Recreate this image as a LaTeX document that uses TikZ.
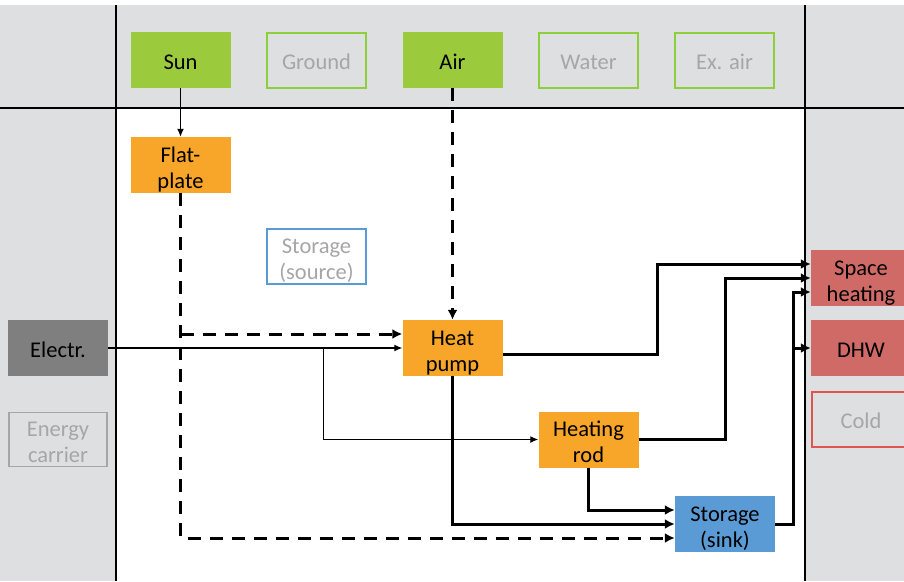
\documentclass[tikz,border=0pt]{standalone}
\usepackage{fontspec}
\setmainfont{Carlito}
\usetikzlibrary{arrows.meta}

\definecolor{panelgrey}{HTML}{DDDFE1}
\definecolor{srcgreen}{HTML}{9BCB3C}
\definecolor{linegreen}{HTML}{8DCF3A}
\definecolor{convorange}{HTML}{F7A629}
\definecolor{stoblue}{HTML}{5B9BD5}
\definecolor{sinkred}{HTML}{D06A66}
\definecolor{linered}{HTML}{E0554F}
\definecolor{elecgrey}{HTML}{7F7F7F}
\definecolor{offtext}{HTML}{A6A6A6}

\begin{document}
\begin{tikzpicture}[x=1pt, y=-1pt, font=\fontsize{22.5}{26}\selectfont]
\tikzstyle{box} 	= [rectangle, minimum height = 56pt, minimum width = 100pt, inner sep = 1pt, align = center, text height = 19pt, text depth = 0pt] % basic block
\tikzstyle{two} 	= [text height = 46pt, text depth = 0pt] % two lines of text
\tikzstyle{src} 	= [box, fill = srcgreen] % active source
\tikzstyle{srcoff} 	= [box, draw = linegreen, line width = 2pt, fill = panelgrey, text = offtext, minimum width = 99pt, minimum height = 55pt] % unused source
\tikzstyle{conv} 	= [box, two, fill = convorange] % converter
\tikzstyle{sto} 	= [box, two, fill = stoblue] % storage
\tikzstyle{sink} 	= [box, fill = sinkred] % demand
\tikzstyle{thinarrow} 	= [line width = 1.2pt, color = black, -{Latex[length=8pt, width=7pt]}] % electricity / solar
\tikzstyle{heatarrow} 	= [line width = 3pt, color = black, -{Latex[length=10pt, width=10pt]}] % heat flow
\tikzstyle{dasharrow} 	= [heatarrow, dash pattern = on 13pt off 9pt] % low temperature heat

\useasboundingbox (0,0) rectangle (904,581);

% background panels
\fill[panelgrey] (0,5) rectangle (904,581);
\fill[white] (116,108) rectangle (805,581);
\draw[line width = 1.2pt] (0,108) -- (904,108);
\draw[line width = 1.2pt] (116,5) -- (116,581);
\draw[line width = 1.2pt] (805,5) -- (805,581);

% sources
\node(Sun)[src] at (180.5,60){Sun};
\node(Ground)[srcoff, right of = Sun, node distance = 136pt]{Ground};
\node(Air)[src, right of = Ground, node distance = 136pt]{Air};
\node(Water)[srcoff, right of = Air, node distance = 136pt]{Water};
\node(ExAir)[srcoff, right of = Water, node distance = 136pt]{Ex. air};

% energy carriers
\node(Elec)[box, fill = elecgrey] at (58,348){Electr.};
\node(Carrier)[box, two, draw = offtext, line width = 1.4pt, text = offtext, minimum width = 98pt, minimum height = 54pt, below of = Elec, node distance = 91.5pt]{Energy\\carrier};

% converters and storages
\node(FP)[conv, below of = Sun, node distance = 105pt]{Flat-\\plate};
\node(StoSrc)[box, two, draw = stoblue, line width = 1.4pt, fill = white, text = offtext, minimum width = 99pt, minimum height = 55pt] at (316.5,256.5){Storage\\(source)};
\node(HP)[conv, below of = Air, node distance = 288pt]{Heat\\pump};
\node(HR)[conv] at (588.5,439.5){Heating\\rod};
\node(StoSink)[sto] at (725,524){Storage\\(sink)};

% sinks
\node(SH)[sink, two] at (861,278){Space\\heating};
\node(DHW)[sink, below of = SH, node distance = 70pt]{DHW};
\node(Cold)[srcoff, draw = linered, below of = DHW, node distance = 71pt]{Cold};

% solar and ambient heat
\draw[thinarrow] (Sun.south) -- (FP.north);
\draw[dasharrow] (Air.south) -- (HP.north);
\coordinate (hpin) at ([yshift=14pt]HP.west);
\draw[dasharrow] (FP.south) |- ([yshift=-14pt]StoSink.west);
\draw[dasharrow] (FP.south |- hpin) -- (hpin);

% electricity
\draw[thinarrow] (Elec.east) -- (HP.west);
\draw[thinarrow] (Elec.east) -- ++(215,0) |- (HR.west);

% heat to storage
\draw[heatarrow] (HP.south) |- (StoSink.west);
\draw[heatarrow] (HR.south) |- ([yshift=14pt]StoSink.west);

% heat to demand
\draw[heatarrow] ([yshift=-6pt]HP.east) -- ++(155,0) |- ([yshift=14pt]SH.west);
\draw[heatarrow] (HR.east) -| (StoSink.center |- SH.west) -- (SH.west);
\draw[heatarrow] (StoSink.east) -- ++(18,0) coordinate (sj) |- ([yshift=-14pt]SH.west);
\draw[heatarrow] (sj) |- (DHW.west);
\end{tikzpicture}
\end{document}
